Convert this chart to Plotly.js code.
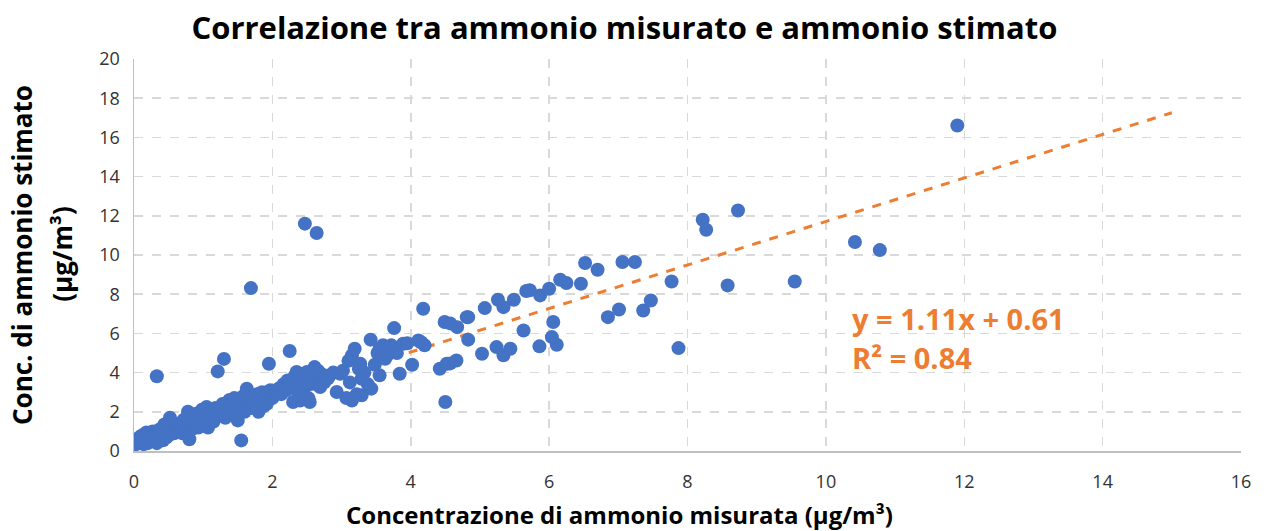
<!DOCTYPE html>
<html>
<head>
<meta charset="utf-8">
<script src="https://cdn.plot.ly/plotly-3.0.1.min.js"></script>
<style>html,body{margin:0;padding:0;background:#fff;}#chart{width:1264px;height:531px;}</style>
</head>
<body>
<div id="chart"></div>
<script>
// Measured ammonium (x) and estimated ammonium (y), µg/m³
const measured = [
  0.03,0.05,0.08,0.10,0.12,0.15,0.18,0.20,0.22,0.25,0.27,0.30,0.32,0.35,0.37,0.40,0.42,0.45,0.48,0.50,0.52,0.55,0.58,0.60,0.10,0.14,0.20,0.28,0.33,0.38,0.44,0.47,0.33,
  0.62,0.65,0.68,0.70,0.72,0.75,0.78,0.80,0.80,0.83,0.85,0.88,0.90,0.93,0.95,0.98,1.00,1.03,1.05,1.07,1.10,1.12,1.15,1.18,1.20,1.21,1.25,1.28,1.30,1.32,1.35,1.38,1.40,1.43,1.45,1.48,1.50,1.55,1.52,
  1.55,1.58,1.60,1.63,1.65,1.69,1.70,1.72,1.75,1.78,1.80,1.82,1.85,1.88,1.90,1.92,1.95,1.97,2.00,2.03,2.06,2.10,2.13,2.16,2.20,2.22,2.25,2.27,2.30,2.32,2.35,2.37,2.40,2.40,2.43,2.45,2.47,2.50,2.50,2.52,2.54,2.57,2.59,2.61,2.64,2.66,2.69,2.72,
  2.75,2.80,2.83,2.88,2.93,2.98,3.02,3.07,3.10,3.12,3.15,3.15,3.19,3.22,3.25,3.27,3.29,3.29,3.33,3.38,3.42,3.43,3.48,3.52,3.55,3.55,3.60,3.63,3.66,3.70,3.72,3.76,3.80,3.84,3.89,3.95,4.02,4.11,4.15,4.18,4.20,
  4.42,4.49,4.50,4.52,4.57,4.57,4.66,4.67,4.81,4.83,4.83,5.03,5.07,5.24,5.26,5.34,5.34,5.44,5.49,5.63,5.67,5.72,5.86,5.87,6.00,6.04,6.06,6.11,6.16,6.25,6.46,6.52,6.70,6.85,7.01,7.06,7.24,7.36,7.47,7.77,7.87,
  8.22,8.27,8.58,8.73,9.55,10.42,10.78,11.90
];
const estimated = [
  0.35,0.50,0.70,0.45,0.80,0.55,0.95,0.40,0.70,0.60,1.00,0.50,0.85,0.65,1.10,0.75,0.55,0.95,1.20,0.80,1.70,1.05,0.90,1.30,0.60,0.35,0.85,0.75,0.40,0.90,1.35,0.70,3.81,
  1.00,1.40,1.15,0.90,1.60,1.25,2.00,0.60,1.50,1.10,1.70,1.35,1.90,1.20,1.55,2.10,1.45,1.80,2.25,1.20,1.65,2.00,1.50,2.20,1.80,4.06,2.00,2.40,4.70,1.70,2.20,2.60,1.90,2.30,2.70,2.10,1.56,0.54,2.50,
  2.30,2.80,2.00,3.18,2.50,8.31,2.20,2.70,2.40,2.90,2.00,2.60,3.00,2.30,2.80,2.41,4.45,3.10,2.70,3.00,2.92,3.20,2.90,3.40,3.10,3.60,5.10,3.30,2.50,3.80,4.03,3.00,3.94,2.58,3.50,2.80,11.60,4.03,3.35,2.70,2.50,3.70,3.43,4.28,11.12,4.10,3.26,3.90,
  3.50,3.70,3.86,4.00,3.01,3.94,4.10,2.70,4.60,3.50,4.88,2.58,5.22,2.90,4.20,4.45,3.69,2.84,4.00,3.40,5.68,3.18,4.40,5.00,5.22,3.86,5.40,4.71,4.90,5.20,5.39,6.27,5.00,3.94,5.47,5.50,4.40,5.64,5.55,7.26,5.39,
  4.20,6.58,2.50,4.45,4.47,6.51,4.62,6.32,6.83,5.68,6.83,4.96,7.29,5.30,7.72,7.34,4.88,5.22,7.72,6.15,8.16,8.20,5.34,7.94,8.28,5.81,6.58,5.42,8.74,8.57,8.53,9.59,9.25,6.83,7.22,9.64,9.64,7.17,7.68,8.65,5.25,
  11.80,11.29,8.45,12.27,8.65,10.66,10.25,16.61
];
// Linear trendline reported on the chart
const trendSlope = 1.11;
const trendIntercept = 0.61;
const trendRange = [0, 15];
const xTicks = [0,2,4,6,8,10,12,14,16];
const yTicks = [0,2,4,6,8,10,12,14,16,18,20];

const font = '"Open Sans", "Noto Sans", sans-serif';
const trendX = trendRange;
const trendY = trendRange.map(v => trendSlope * v + trendIntercept);

const traces = [
  {x: trendX, y: trendY, type: 'scatter', mode: 'lines',
   line: {color: '#ED7D31', width: 3, dash: 'dash'}, hoverinfo: 'skip', showlegend: false},
  {x: measured, y: estimated, type: 'scatter', mode: 'markers',
   marker: {color: '#4472C4', size: 14, line: {width: 0}}, showlegend: false}
];

const axisCommon = {
  showgrid: true, gridcolor: '#d9d9d9', griddash: 'dash', gridwidth: 1.5,
  showline: true, linecolor: '#bfbfbf', linewidth: 1.5,
  zeroline: false, ticks: '', tickfont: {family: font, size: 18, color: '#333'}
};

const layout = {
  width: 1264, height: 531,
  margin: {l: 134, r: 23, t: 59, b: 80},
  paper_bgcolor: '#fff', plot_bgcolor: '#fff',
  font: {family: font},
  title: {text: '<b>Correlazione tra ammonio misurato e ammonio stimato</b>',
          font: {family: font, size: 31, color: '#000'},
          x: 0.494, xref: 'container', y: 0.947, yref: 'container', xanchor: 'center', yanchor: 'middle'},
  xaxis: Object.assign({}, axisCommon, {range: [0, 16], tickvals: xTicks, ticktext: xTicks.map(String), ticklabelstandoff: 14}),
  yaxis: Object.assign({}, axisCommon, {range: [0, 20], tickvals: yTicks, ticktext: yTicks.map(String), ticklabelstandoff: 9}),
  annotations: [
    {text: '<b>Concentrazione di ammonio misurata (µg/m³)</b>', xref: 'paper', yref: 'paper',
     x: 0.439, y: (450.6 - 514) / 392, xanchor: 'center', yanchor: 'middle', showarrow: false,
     font: {family: font, size: 24, color: '#000'}},
    {text: '<b>Conc. di ammonio stimato</b>', xref: 'paper', yref: 'paper',
     x: (22 - 134) / 1107, y: 0.5, xanchor: 'center', yanchor: 'middle', showarrow: false, textangle: -90,
     font: {family: font, size: 26, color: '#000'}},
    {text: '<b>(µg/m³)</b>', xref: 'paper', yref: 'paper',
     x: (62 - 134) / 1107, y: 0.503, xanchor: 'center', yanchor: 'middle', showarrow: false, textangle: -90,
     font: {family: font, size: 26, color: '#000'}},
    {text: '<b>y = 1.11x + 0.61</b>', xref: 'x', yref: 'y', x: 10.35, y: 6.77,
     xanchor: 'left', yanchor: 'middle', showarrow: false,
     font: {family: font, size: 29, color: '#ED7D31'}},
    {text: '<b>R² = 0.84</b>', xref: 'x', yref: 'y', x: 10.35, y: 4.78,
     xanchor: 'left', yanchor: 'middle', showarrow: false,
     font: {family: font, size: 29, color: '#ED7D31'}}
  ]
};

Plotly.newPlot('chart', traces, layout, {staticPlot: true, displayModeBar: false});
</script>
</body>
</html>
